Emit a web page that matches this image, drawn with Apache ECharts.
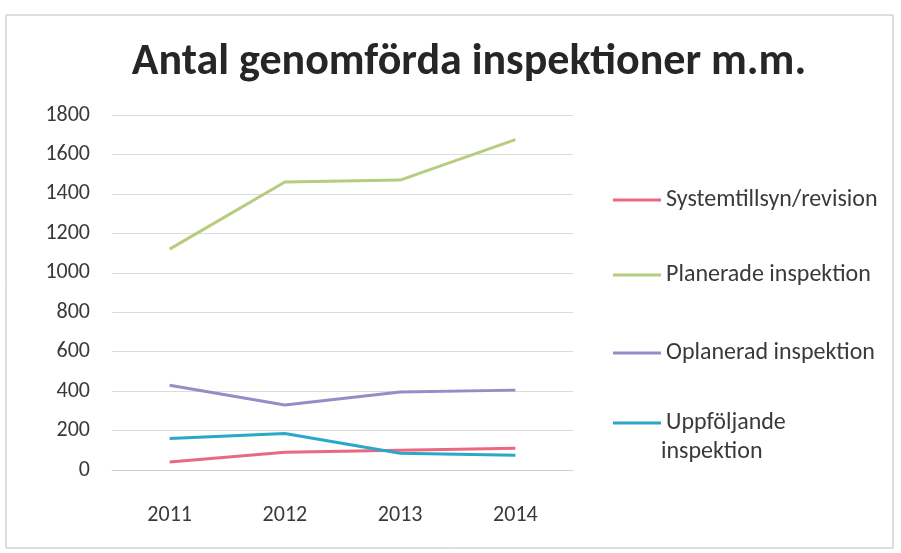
<!DOCTYPE html>
<html><head><meta charset="utf-8">
<script src="https://cdn.jsdelivr.net/npm/echarts@6/dist/echarts.min.js"></script>
<style>html,body{margin:0;padding:0;background:#fff}#c{width:901px;height:553px}</style>
</head><body><div id="c"></div>
<script>
var categories = ['2011', '2012', '2013', '2014'];
var systemtillsyn = [40, 90, 100, 110];
var planerade = [1120, 1460, 1470, 1675];
var oplanerad = [430, 330, 395, 405];
var uppfoljande = [160, 185, 85, 75];
var seriesNames = ['Systemtillsyn/revision', 'Planerade inspektion', 'Oplanerad inspektion', 'Uppföljande inspektion'];
var colors = ['#E96A80', '#B6CC7E', '#9A8AC6', '#2AA8C9'];
var font = 'Carlito, "Noto Sans", sans-serif';

var chart = echarts.init(document.getElementById('c'));
function mkLegend(i, top, fmt) {
  return {
    data: [seriesNames[i]], orient: 'vertical', left: 608, top: top,
    icon: 'rect', itemWidth: 48, itemHeight: 3, itemGap: 0,
    formatter: fmt || '{name}',
    textStyle: { fontFamily: font, fontSize: 24, color: '#3a3a3a' },
    selectedMode: false
  };
}
chart.setOption({
  backgroundColor: '#fff',
  animation: false,
  color: colors,
  title: {
    text: 'Antal genomförda inspektioner m.m.',
    left: 464, top: 36, textAlign: 'center',
    textStyle: { fontFamily: font, fontSize: 44, fontWeight: 'bold', color: '#262626' }
  },
  graphic: [
    { type: 'rect', shape: { x: 6, y: 15, width: 887, height: 533 }, style: { fill: 'none', stroke: '#bdbdbd', lineWidth: 1 }, silent: true },
    { type: 'text', left: 661, top: 440, style: { text: 'inspektion', font: '24px ' + font, fill: '#3a3a3a' }, silent: true }
  ],
  legend: [
    mkLegend(0, 183),
    mkLegend(1, 258),
    mkLegend(2, 336),
    mkLegend(3, 406, 'Uppföljande')
  ],
  grid: { left: 112, right: 328, top: 115, bottom: 83 },
  xAxis: {
    type: 'category', data: categories, boundaryGap: true,
    axisLine: { lineStyle: { color: '#d0d0d0' } },
    axisTick: { show: false },
    axisLabel: { fontFamily: font, fontSize: 22, color: '#3a3a3a', margin: 34 }
  },
  yAxis: {
    type: 'value', min: 0, max: 1800, interval: 200,
    axisLine: { show: false }, axisTick: { show: false },
    splitLine: { lineStyle: { color: '#dcdcdc' } },
    axisLabel: { fontFamily: font, fontSize: 22, color: '#3a3a3a', margin: 22, formatter: function (v) { return String(v); } }
  },
  series: [
    { name: seriesNames[0], type: 'line', data: systemtillsyn, showSymbol: false, lineStyle: { width: 3 } },
    { name: seriesNames[1], type: 'line', data: planerade, showSymbol: false, lineStyle: { width: 3 } },
    { name: seriesNames[2], type: 'line', data: oplanerad, showSymbol: false, lineStyle: { width: 3 } },
    { name: seriesNames[3], type: 'line', data: uppfoljande, showSymbol: false, lineStyle: { width: 3 } }
  ]
});
</script></body></html>
